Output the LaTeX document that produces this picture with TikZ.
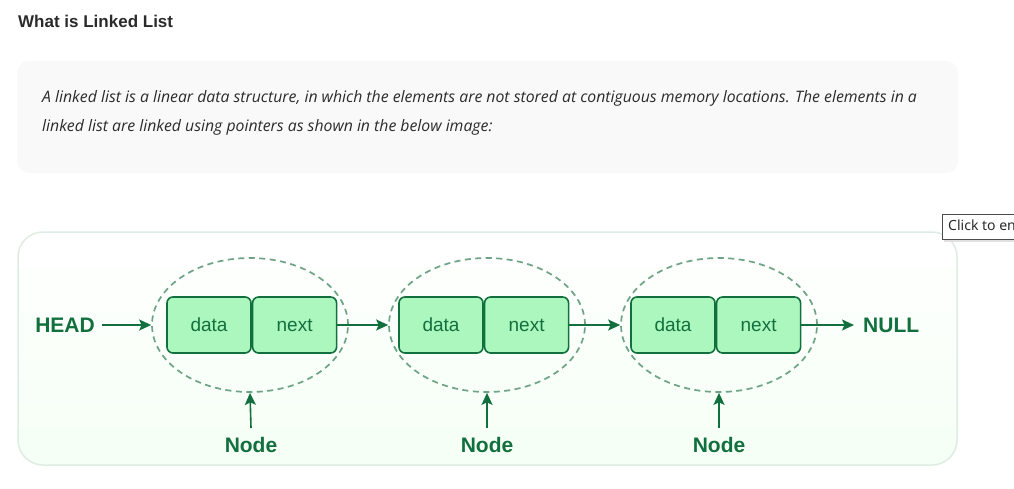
\documentclass[tikz,border=0pt]{standalone}
\usepackage{fontspec}
\setmainfont{Liberation Sans}
\newfontfamily\bodyfont{Open Sans}
\newfontfamily\tipfont{Noto Sans}
\usepackage{tikz}
\usetikzlibrary{arrows.meta,positioning,shapes.geometric}

\definecolor{gfgdark}{HTML}{12703E}
\definecolor{gfgfill}{HTML}{ABF7BD}
\definecolor{gfgdash}{HTML}{6FA386}
\definecolor{gfgframe}{HTML}{DDEDE3}
\definecolor{notegrey}{HTML}{F9F9F9}
\definecolor{inkgrey}{HTML}{2B2B2B}

\tikzset{
  cell/.style={draw=gfgdark, fill=gfgfill, line width=1.6pt, rounded corners=6pt,
    minimum width=84pt, minimum height=56pt, inner sep=0pt, text=gfgdark,
    font=\fontsize{19}{21}\selectfont},
  wrap/.style={draw=gfgdash, dashed, dash pattern=on 6pt off 4.5pt, line width=1.7pt,
    ellipse, minimum width=196pt, minimum height=134pt, inner sep=0pt},
  label/.style={text=gfgdark, font=\fontsize{21}{23}\selectfont\bfseries, inner sep=0pt},
  link/.style={draw=gfgdark, line width=1.6pt, -{Stealth[length=12pt,width=11pt,inset=2.5pt]}},
}

\begin{document}
\begin{tikzpicture}[x=1pt, y=-1pt]
            \useasboundingbox[fill=white] (0,0) rectangle (1014,488);
            \begin{scope}
            \clip (0,0) rectangle (1014,488);

            % heading and note
            \node[anchor=west, inner sep=0pt, text=inkgrey, font=\fontsize{17}{19}\selectfont\bfseries] (title) at (18,21) {What is Linked List};
            \fill[notegrey, rounded corners=12pt] (17,61) rectangle (958,173);
            \node[anchor=west, inner sep=0pt, text=inkgrey, font=\bodyfont\itshape\fontsize{15.8}{18}\selectfont] (line1) at (42,98) {A linked list is a linear data structure, in which the elements are not stored at contiguous memory locations. The elements in a};
            \node[anchor=west, inner sep=0pt, text=inkgrey, font=\bodyfont\itshape\fontsize{15.8}{18}\selectfont] (line2) at (42,127) {linked list are linked using pointers as shown in the below image:};

            % frame
            \draw[gfgframe, line width=1.5pt, rounded corners=25pt, top color=white, bottom color=green!40!white!10] (18,232) rectangle (957,465);

            % tooltip
            \fill[black!12] (944,217) rectangle (1020,242);
            \node[draw=black!70, fill=white, anchor=north west, minimum height=25pt, inner xsep=6pt, text=inkgrey, font=\tipfont\fontsize{14}{16}\selectfont] (tip) at (942,214) {Click to enlarge};

            % list nodes
            \node[cell] (d1) at (209,325) {data};
            \node[cell, right=0pt of d1] (n1) {next};
            \node[cell] (d2) at (441,325) {data};
            \node[cell, right=0pt of d2] (n2) {next};
            \node[cell] (d3) at (673,325) {data};
            \node[cell, right=0pt of d3] (n3) {next};

            \node[wrap] (e1) at (250,325) {};
            \node[wrap] (e2) at (487,325) {};
            \node[wrap] (e3) at (719,325) {};

            \node[label, anchor=east] (head) at (95,325) {HEAD};
            \node[label, anchor=west] (null) at (863,325) {NULL};
            \node[label] (k1) at (251,445) {Node};
            \node[label] (k2) at (487,445) {Node};
            \node[label] (k3) at (719,445) {Node};

            \path
            ([xshift=7pt]head.east) edge[link] (e1.west)
            (n1.east) edge[link] (e2.west)
            (n2.east) edge[link] (e3.west)
            (n3.east) edge[link] ([xshift=-9pt]null.west)
            ([yshift=9pt]k1.north) edge[link] (e1.south)
            ([yshift=9pt]k2.north) edge[link] (e2.south)
            ([yshift=9pt]k3.north) edge[link] (e3.south);
            \end{scope}
            \end{tikzpicture}
\end{document}
